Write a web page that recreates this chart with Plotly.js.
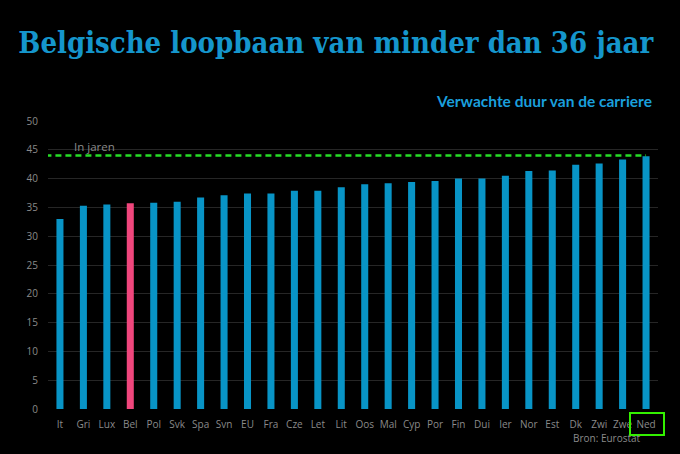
<!DOCTYPE html>
<html>
<head>
<meta charset="utf-8">
<script src="https://cdn.plot.ly/plotly-3.0.1.min.js"></script>
<style>
  html, body { margin: 0; padding: 0; background: #000; }
  #chart { width: 680px; height: 454px; }
</style>
</head>
<body>
<div id="chart"></div>
<script>
// Expected career length (years) per country, Eurostat
const countries = ["It", "Gri", "Lux", "Bel", "Pol", "Svk", "Spa", "Svn", "EU", "Fra",
                   "Cze", "Let", "Lit", "Oos", "Mal", "Cyp", "Por", "Fin", "Dui", "Ier",
                   "Nor", "Est", "Dk", "Zwi", "Zwe", "Ned"];
const years = [33.0, 35.3, 35.5, 35.7, 35.8, 36.0, 36.7, 37.1, 37.4, 37.4,
               37.9, 37.9, 38.5, 39.0, 39.2, 39.4, 39.6, 40.0, 40.0, 40.5,
               41.3, 41.4, 42.4, 42.6, 43.3, 43.9];
const highlight = "Bel";
const boxed = "Ned";
const referenceValue = 44.0;
const yTicks = [0, 5, 10, 15, 20, 25, 30, 35, 40, 45, 50];

const BLUE = "#0894c6";
const PINK = "#f0467c";
const GREY = "#8a8a8a";

const barColors = countries.map(c => c === highlight ? PINK : BLUE);
const last = countries.length - 1;

const trace = {
  type: "bar",
  x: countries,
  y: years,
  marker: { color: barColors },
  hoverinfo: "x+y"
};

const layout = {
  width: 680,
  height: 454,
  paper_bgcolor: "#000",
  plot_bgcolor: "#000",
  margin: { l: 48, r: 22, t: 121, b: 45 },
  bargap: 0.7,
  showlegend: false,
  font: { family: "Open Sans, sans-serif", color: GREY, size: 10 },
  title: {
    text: "<b>Belgische loopbaan van minder dan 36 jaar</b>",
    font: { family: "DejaVu Serif Condensed, DejaVu Serif, serif", size: 29, color: "#1596cc" },
    xref: "container", x: 0.027, xanchor: "left",
    yref: "container", y: 0.905, yanchor: "middle"
  },
  xaxis: {
    type: "category",
    range: [-0.51, last + 0.51],
    showgrid: false,
    zeroline: false,
    showline: false,
    ticks: "",
    ticklabelstandoff: 8,
    tickfont: { family: "Open Sans, sans-serif", size: 10, color: GREY }
  },
  yaxis: {
    range: [0, 50],
    tickvals: yTicks,
    showgrid: true,
    gridcolor: "#262626",
    gridwidth: 1,
    zeroline: false,
    showline: false,
    ticks: "",
    ticklabelstandoff: 9,
    tickfont: { family: "Open Sans, sans-serif", size: 10, color: GREY }
  },
  shapes: [
    {
      type: "line", xref: "x", yref: "y",
      x0: -0.62, x1: last, y0: referenceValue, y1: referenceValue,
      line: { color: "#26dd26", width: 2.5, dash: "6px,4px" }
    }
  ],
  annotations: [
    {
      // outlined label for the last country
      text: boxed, xref: "x", yref: "paper",
      x: boxed, y: -0.052, xanchor: "center", yanchor: "middle",
      xshift: 1,
      showarrow: false,
      bordercolor: "#33f000", borderwidth: 2, borderpad: 3,
      width: 26, height: 14,
      font: { family: "Open Sans, sans-serif", size: 10, color: "rgba(0,0,0,0)" }
    },
    {
      text: "In jaren", xref: "paper", yref: "y",
      x: 0.04, y: referenceValue, xanchor: "left", yanchor: "bottom", yshift: 0,
      showarrow: false,
      font: { family: "Open Sans, sans-serif", size: 11.5, color: GREY }
    },
    {
      text: "<b>Verwachte duur van de carriere</b>", xref: "paper", yref: "paper",
      x: 0.994, y: 1.07, xanchor: "right", yanchor: "middle",
      showarrow: false,
      font: { family: "Lato, sans-serif", size: 15.5, color: "#1a9fdc" }
    },
    {
      text: "Bron: Eurostat", xref: "paper", yref: "paper",
      x: 0.975, y: -0.1, xanchor: "right", yanchor: "middle",
      showarrow: false,
      font: { family: "Open Sans, sans-serif", size: 10, color: GREY }
    }
  ]
};

Plotly.newPlot("chart", [trace], layout, { displayModeBar: false, staticPlot: true });
</script>
</body>
</html>
